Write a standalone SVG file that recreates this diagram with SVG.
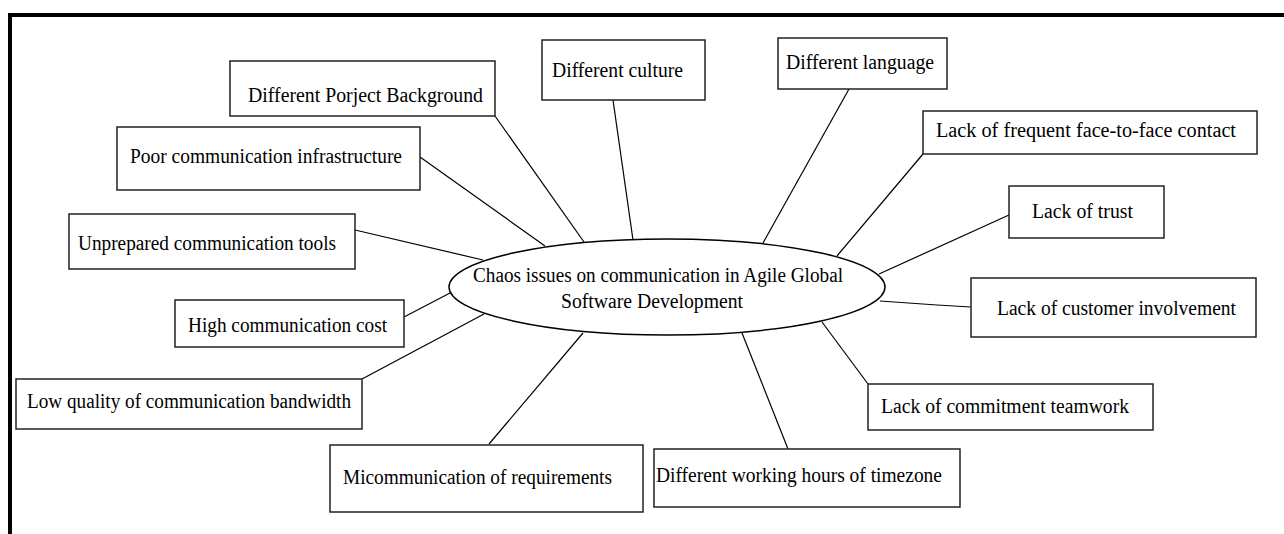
<svg xmlns="http://www.w3.org/2000/svg" width="1284" height="534" viewBox="0 0 1284 534">
<style>
.box{fill:#fff;stroke:#222;stroke-width:1.5}
.t{font-family:"Liberation Serif","Times New Roman",serif;font-size:20.5px;fill:#000}
.c{stroke:#000;stroke-width:1.2;fill:none}
</style>
<rect x="0" y="0" width="1284" height="534" fill="#fff"/>
<rect x="10" y="15" width="1290" height="540" fill="none" stroke="#000" stroke-width="4"/>
<g id="connectors">
<line class="c" x1="495" y1="116" x2="584" y2="242"/>
<line class="c" x1="613" y1="100" x2="633" y2="240"/>
<line class="c" x1="849" y1="89" x2="763" y2="243"/>
<line class="c" x1="923" y1="154" x2="837" y2="256"/>
<line class="c" x1="420" y1="157" x2="545" y2="246"/>
<line class="c" x1="355" y1="230" x2="483" y2="260"/>
<line class="c" x1="404" y1="317" x2="450" y2="293"/>
<line class="c" x1="362" y1="379" x2="484" y2="314"/>
<line class="c" x1="489" y1="444" x2="583" y2="333"/>
<line class="c" x1="788" y1="449" x2="742" y2="333"/>
<line class="c" x1="868" y1="384" x2="822" y2="322"/>
<line class="c" x1="1009" y1="215" x2="879" y2="274"/>
<polyline class="c" points="971,307 937,305 880,301"/>
</g>
<g id="center">
<ellipse cx="667" cy="287" rx="218" ry="48" fill="#fff" stroke="#000" stroke-width="1.5"/>
<text class="t" x="473" y="282" textLength="370" lengthAdjust="spacingAndGlyphs">Chaos issues on communication in Agile Global</text>
<text class="t" x="561" y="308" textLength="182" lengthAdjust="spacingAndGlyphs">Software Development</text>
</g>
<g id="n-background"><rect class="box" x="230" y="61" width="265" height="55"/><text class="t" x="248" y="102" textLength="235" lengthAdjust="spacingAndGlyphs">Different Porject Background</text></g>
<g id="n-culture"><rect class="box" x="542" y="40" width="163" height="60"/><text class="t" x="552" y="77" textLength="131" lengthAdjust="spacingAndGlyphs">Different culture</text></g>
<g id="n-language"><rect class="box" x="778" y="38" width="169" height="51"/><text class="t" x="786" y="69" textLength="148" lengthAdjust="spacingAndGlyphs">Different language</text></g>
<g id="n-face"><rect class="box" x="923" y="111" width="334" height="43"/><text class="t" x="936" y="137" textLength="300" lengthAdjust="spacingAndGlyphs">Lack of frequent face-to-face contact</text></g>
<g id="n-infra"><rect class="box" x="117" y="127" width="303" height="63"/><text class="t" x="130" y="163" textLength="272" lengthAdjust="spacingAndGlyphs">Poor communication infrastructure</text></g>
<g id="n-tools"><rect class="box" x="69" y="214" width="286" height="55"/><text class="t" x="78" y="250" textLength="258" lengthAdjust="spacingAndGlyphs">Unprepared communication tools</text></g>
<g id="n-cost"><rect class="box" x="175" y="300" width="229" height="47"/><text class="t" x="188" y="332" textLength="199" lengthAdjust="spacingAndGlyphs">High communication cost</text></g>
<g id="n-bandwidth"><rect class="box" x="16" y="379" width="346" height="50"/><text class="t" x="27" y="408" textLength="324" lengthAdjust="spacingAndGlyphs">Low quality of communication bandwidth</text></g>
<g id="n-requirements"><rect class="box" x="330" y="445" width="313" height="67"/><text class="t" x="343" y="484" textLength="269" lengthAdjust="spacingAndGlyphs">Micommunication of requirements</text></g>
<g id="n-timezone"><rect class="box" x="654" y="449" width="306" height="58"/><text class="t" x="656" y="482" textLength="286" lengthAdjust="spacingAndGlyphs">Different working hours of timezone</text></g>
<g id="n-teamwork"><rect class="box" x="868" y="384" width="285" height="46"/><text class="t" x="881" y="413" textLength="248" lengthAdjust="spacingAndGlyphs">Lack of commitment teamwork</text></g>
<g id="n-trust"><rect class="box" x="1009" y="186" width="155" height="52"/><text class="t" x="1032" y="218" textLength="101" lengthAdjust="spacingAndGlyphs">Lack of trust</text></g>
<g id="n-customer"><rect class="box" x="971" y="278" width="285" height="59"/><text class="t" x="997" y="315" textLength="239" lengthAdjust="spacingAndGlyphs">Lack of customer involvement</text></g>
</svg>
